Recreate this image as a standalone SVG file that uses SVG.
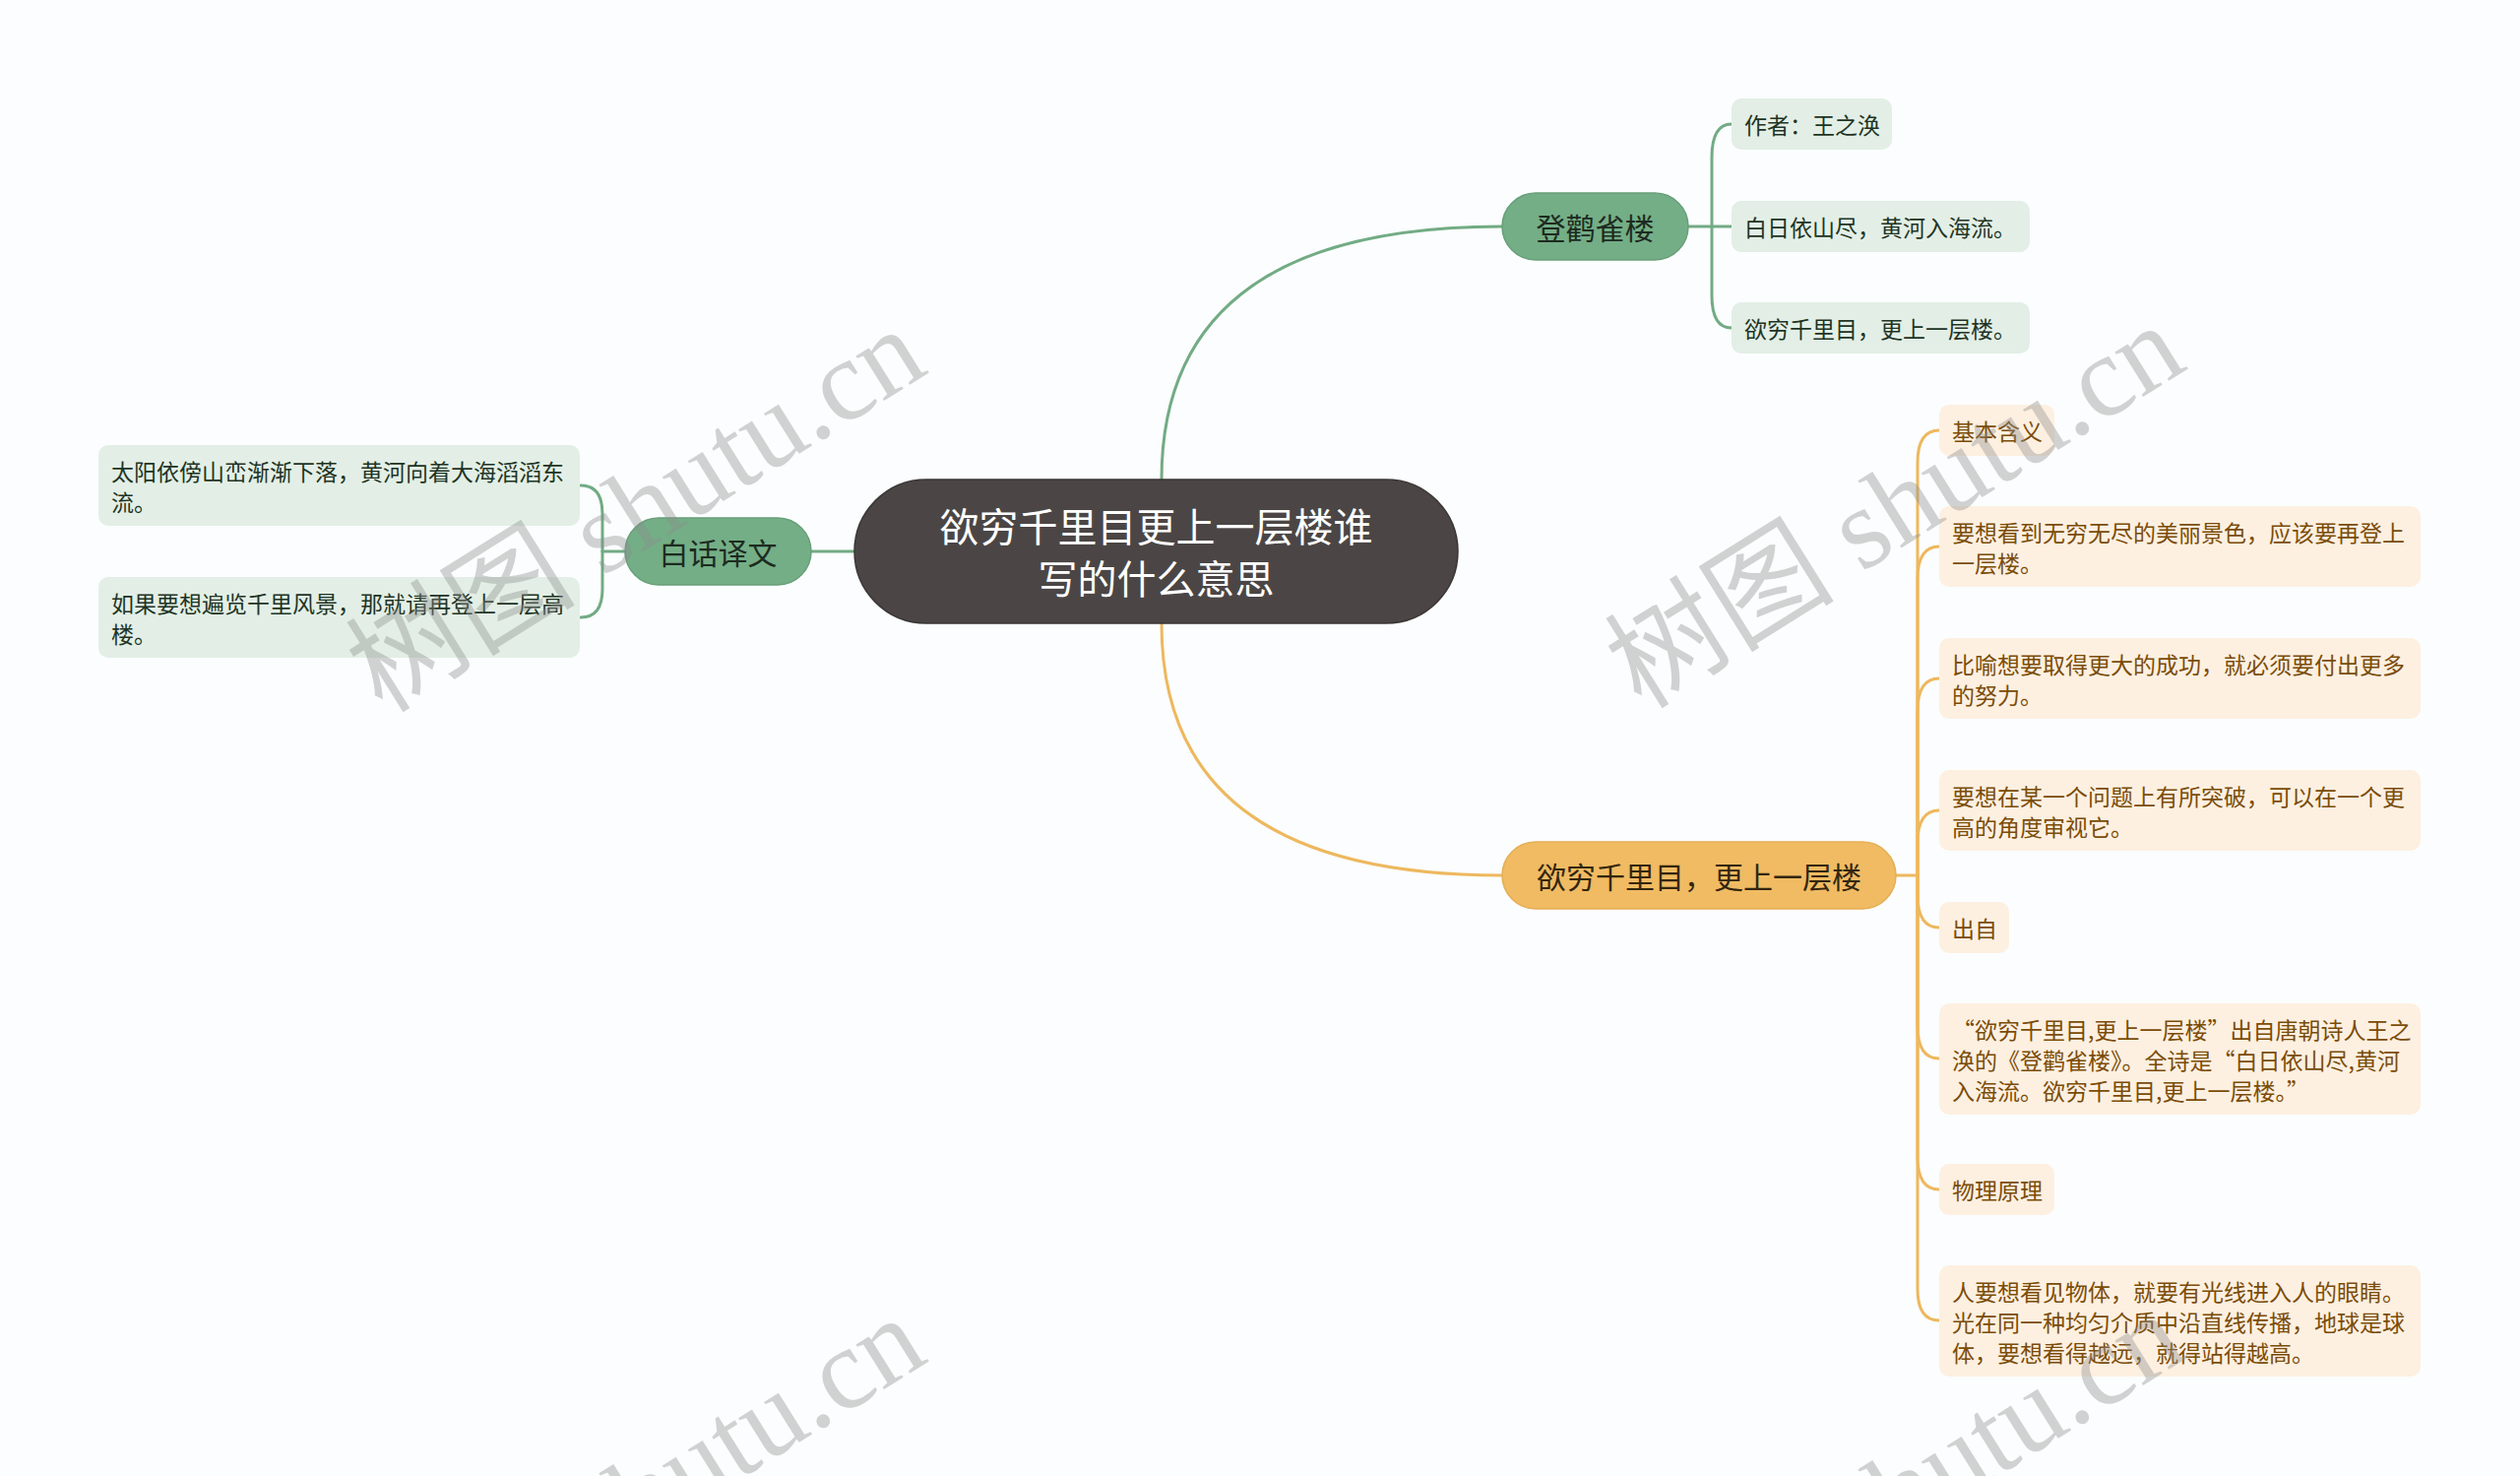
<svg xmlns="http://www.w3.org/2000/svg" width="2560" height="1499" viewBox="0 0 2560 1499">
<style>
text{font-family:"Noto Sans CJK SC","Noto Sans",sans-serif;dominant-baseline:central}
.c{fill:none;stroke-width:3;stroke-linecap:round}
.g{stroke:#72ab84}
.o{stroke:#eeb85e}
.gb{fill:#e3efe6}
.ob{fill:#fdf0e1}
.gt{font-size:23px;fill:#1e3424}
.ot{font-size:23px;fill:#7b4c07}
.mt{font-size:30px;text-anchor:middle}
.wm{font-family:"Liberation Serif","Noto Sans CJK SC",serif;font-size:117px;fill:#8c8c8c;fill-opacity:0.38;text-anchor:middle;dominant-baseline:central}
</style>
<rect width="2560" height="1499" fill="#fbfdfe"/>
<g id="connectors">
<path class="c g" d="M1180 487 Q1180 230 1526 230"/>
<path class="c o" d="M1180 633 Q1180 889 1526 889"/>
<path class="c g" d="M868 560 H824"/>
<path class="c g" d="M1715 230 H1759"/>
<path class="c g" d="M1739 230 V160 Q1739 126 1759 126"/>
<path class="c g" d="M1739 230 V300 Q1739 333 1759 333"/>
<path class="c g" d="M635 560 H612"/>
<path class="c g" d="M612 560 V522 Q612 493 590 493"/>
<path class="c g" d="M612 560 V598 Q612 627 590 627"/>
<path class="c o" d="M1926 889 H1948"/>
<path class="c o" d="M1948 889 V470 Q1948 437 1970 437"/>
<path class="c o" d="M1948 889 V588 Q1948 555 1970 555"/>
<path class="c o" d="M1948 889 V722 Q1948 689 1970 689"/>
<path class="c o" d="M1948 889 V856 Q1948 823 1970 823"/>
<path class="c o" d="M1948 889 V909 Q1948 942 1970 942"/>
<path class="c o" d="M1948 889 V1042 Q1948 1075 1970 1075"/>
<path class="c o" d="M1948 889 V1175 Q1948 1208 1970 1208"/>
<path class="c o" d="M1948 889 V1309 Q1948 1341 1970 1341"/>
</g>
<g id="root">
<rect x="868" y="487" width="613" height="146" rx="73" fill="#4b4645" stroke="#3a3635" stroke-width="1.5"/>
<text x="1174.5" y="533" font-size="40" fill="#ffffff" text-anchor="middle">欲穷千里目更上一层楼谁</text>
<text x="1174.5" y="586" font-size="40" fill="#ffffff" text-anchor="middle">写的什么意思</text>
</g>
<g id="n-denghuan">
<rect x="1526" y="196" width="189" height="68" rx="34" fill="#74ae86" stroke="#679f78" stroke-width="1.5"/>
<text class="mt" x="1620.5" y="230" fill="#1d2b20">登鹳雀楼</text>
</g>
<g id="n-author">
<rect class="gb" x="1759" y="100" width="163" height="52" rx="10"/>
<text class="gt" x="1772" y="126">作者：王之涣</text>
</g>
<g id="n-line1">
<rect class="gb" x="1759" y="204" width="303" height="52" rx="10"/>
<text class="gt" x="1772" y="230">白日依山尽，黄河入海流。</text>
</g>
<g id="n-line2">
<rect class="gb" x="1759" y="307" width="303" height="52" rx="10"/>
<text class="gt" x="1772" y="333">欲穷千里目，更上一层楼。</text>
</g>
<g id="n-baihua">
<rect x="635" y="526" width="189" height="68" rx="34" fill="#74ae86" stroke="#679f78" stroke-width="1.5"/>
<text class="mt" x="729.5" y="560" fill="#1d2b20">白话译文</text>
</g>
<g id="n-trans1">
<rect class="gb" x="100" y="452" width="489" height="82" rx="10"/>
<text class="gt" x="113" y="477.5">太阳依傍山峦渐渐下落，黄河向着大海滔滔东</text>
<text class="gt" x="113" y="508.5">流。</text>
</g>
<g id="n-trans2">
<rect class="gb" x="100" y="586" width="489" height="82" rx="10"/>
<text class="gt" x="113" y="611.5">如果要想遍览千里风景，那就请再登上一层高</text>
<text class="gt" x="113" y="642.5">楼。</text>
</g>
<g id="n-yuqiong">
<rect x="1526" y="855" width="400" height="68" rx="34" fill="#f0bb63" stroke="#e5ae55" stroke-width="1.5"/>
<text class="mt" x="1726" y="889" fill="#33260f">欲穷千里目，更上一层楼</text>
</g>
<g id="n-jiben">
<rect class="ob" x="1970" y="411" width="117" height="52" rx="10"/>
<text class="ot" x="1983" y="437">基本含义</text>
</g>
<g id="n-m1">
<rect class="ob" x="1970" y="514" width="489" height="82" rx="10"/>
<text class="ot" x="1983" y="539.5">要想看到无穷无尽的美丽景色，应该要再登上</text>
<text class="ot" x="1983" y="570.5">一层楼。</text>
</g>
<g id="n-m2">
<rect class="ob" x="1970" y="648" width="489" height="82" rx="10"/>
<text class="ot" x="1983" y="673.5">比喻想要取得更大的成功，就必须要付出更多</text>
<text class="ot" x="1983" y="704.5">的努力。</text>
</g>
<g id="n-m3">
<rect class="ob" x="1970" y="782" width="489" height="82" rx="10"/>
<text class="ot" x="1983" y="807.5">要想在某一个问题上有所突破，可以在一个更</text>
<text class="ot" x="1983" y="838.5">高的角度审视它。</text>
</g>
<g id="n-chuzi">
<rect class="ob" x="1970" y="916" width="71" height="52" rx="10"/>
<text class="ot" x="1983" y="942">出自</text>
</g>
<g id="n-quote">
<rect class="ob" x="1970" y="1019" width="489" height="113" rx="10"/>
<text class="ot" x="1983" y="1044.5">“欲穷千里目,更上一层楼”出自唐朝诗人王之</text>
<text class="ot" x="1983" y="1075.5">涣的《登鹳雀楼》。全诗是“白日依山尽,黄河</text>
<text class="ot" x="1983" y="1106.5">入海流。欲穷千里目,更上一层楼。”</text>
</g>
<g id="n-wuli">
<rect class="ob" x="1970" y="1182" width="117" height="52" rx="10"/>
<text class="ot" x="1983" y="1208">物理原理</text>
</g>
<g id="n-phys">
<rect class="ob" x="1970" y="1285" width="489" height="113" rx="10"/>
<text class="ot" x="1983" y="1310.5">人要想看见物体，就要有光线进入人的眼睛。</text>
<text class="ot" x="1983" y="1341.5">光在同一种均匀介质中沿直线传播，地球是球</text>
<text class="ot" x="1983" y="1372.5">体，要想看得越远，就得站得越高。</text>
</g>
<g id="watermark">
<text class="wm" transform="translate(646 518) rotate(-32)">树图 shutu.cn</text>
<text class="wm" transform="translate(1925 514) rotate(-32)">树图 shutu.cn</text>
<text class="wm" transform="translate(646 1522) rotate(-32)">树图 shutu.cn</text>
<text class="wm" transform="translate(1925 1518) rotate(-32)">树图 shutu.cn</text>
</g>
</svg>
